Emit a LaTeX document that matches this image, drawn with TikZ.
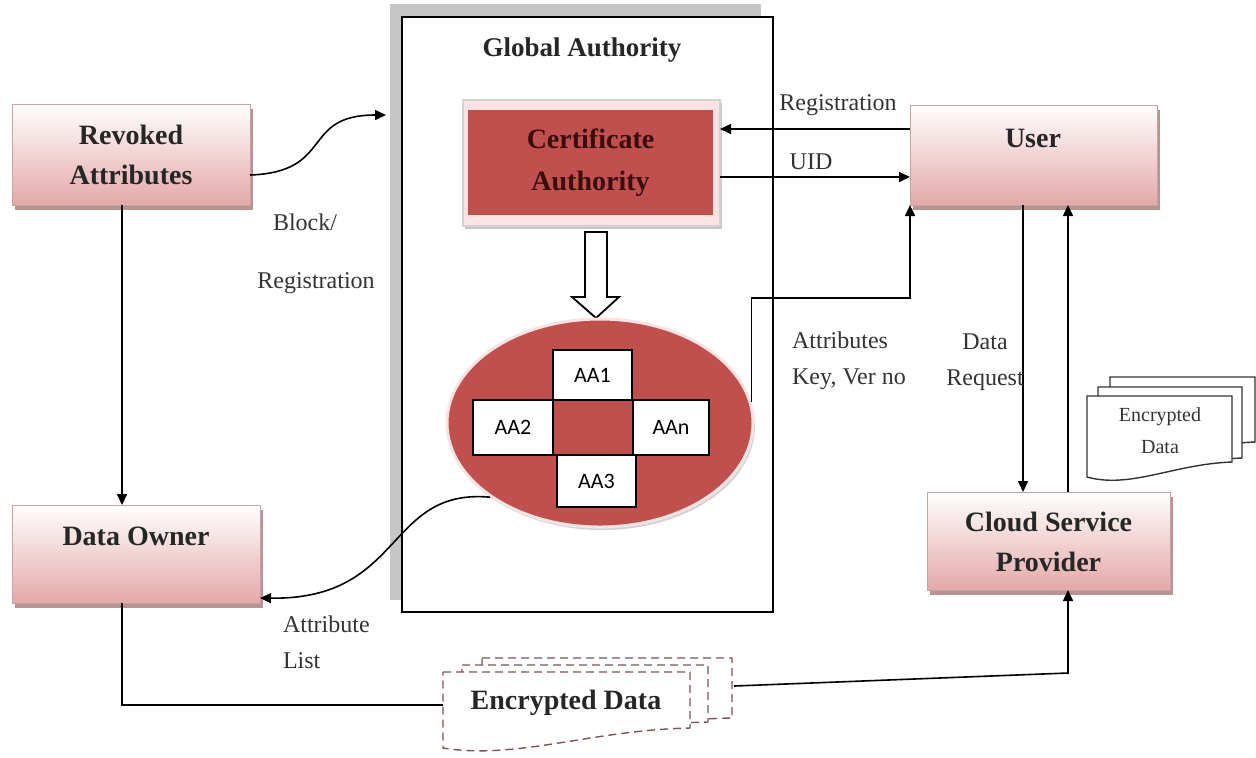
\documentclass[tikz,border=0pt]{standalone}
\usepackage{fontspec}
\setmainfont{Liberation Serif}
\newfontfamily\aafont{Carlito}
\usetikzlibrary{arrows.meta,shadows,shapes.geometric,calc}
\definecolor{boxpink}{HTML}{E4A8A8}
\definecolor{boxedge}{HTML}{C9A3A3}
\definecolor{shadowc}{HTML}{B99393}
\definecolor{cared}{HTML}{C0504D}
\definecolor{catext}{HTML}{3A0C0C}
\definecolor{capale}{HTML}{FBE3E3}
\definecolor{dashc}{HTML}{7A5555}
\tikzset{
 pinkbox/.style={draw=boxedge, line width=0.4pt, top color=white, bottom color=boxpink, inner sep=0pt, outer sep=0pt,
   drop shadow={shadow xshift=1.5pt, shadow yshift=-2.5pt, fill=shadowc, opacity=1}},
 bigtext/.style={font=\fontsize{14}{20}\selectfont\bfseries, text=black!85, align=center},
 lbl/.style={font=\fontsize{12}{18}\selectfont, text=black!80},
 conn/.style={line width=0.8pt},
 arr/.style={conn, -{Triangle[length=5.5pt,width=5pt]}},
 aabox/.style={draw=black, line width=0.8pt, fill=white, font=\aafont\fontsize{11}{13}\selectfont, inner sep=0pt, outer sep=0pt},
 docline/.style={draw=black!80, line width=0.7pt, fill=white},
 dashdoc/.style={draw=dashc, line width=0.7pt, fill=white, dash pattern=on 4pt off 2.5pt},
}
\newcommand{\docshp}[6]{\path[#6] (#1,#2) -- (#3,#2) -- (#3,#5) .. controls ({#1+0.6*(#3-#1)},{#5+2}) and ({#1+0.3*(#3-#1)},{#4+12}) .. (#1,#4) -- cycle;}
\begin{document}
\begin{tikzpicture}[x=0.5pt,y=-0.5pt]
\useasboundingbox (0,0) rectangle (1256,757);
% Global authority
\fill[gray!45] (390,4) rectangle (761,600);
\node[draw=black, line width=1pt, fill=white, minimum width=185.5pt, minimum height=297.5pt, inner sep=0pt, outer sep=0pt] (ga) at (587.5,314.5) {};
\node[font=\fontsize{13.5}{16}\selectfont\bfseries, text=black!85] (gat) at (582,50) {Global Authority};
% Certificate authority
\node[fill=capale, draw=gray!35, line width=0.6pt, minimum width=128.5pt, minimum height=63pt, inner sep=0pt, outer sep=0pt,
  drop shadow={shadow xshift=1pt, shadow yshift=-1.5pt, fill=gray!45, opacity=1}] (caout) at (591.5,163) {};
\node[fill=cared, minimum width=122.5pt, minimum height=52.5pt, inner sep=0pt, font=\fontsize{14}{21}\selectfont\bfseries, text=catext, align=center] (ca) at (590.5,162.5) {Certificate\\Authority};
% hollow arrow
\draw[line width=0.9pt, fill=white] (585,232) -- (607,232) -- (607,297) -- (619,297) -- (596,318) -- (572,297) -- (585,297) -- cycle;
% ellipse with authorities
\node[ellipse, fill=cared, draw=capale, line width=1.5pt, minimum width=153pt, minimum height=104pt, inner sep=0pt,
  drop shadow={shadow xshift=1pt, shadow yshift=-1.5pt, fill=gray!35, opacity=1}] (aa) at (600,423) {};
\node[aabox, fill=cared, minimum width=40pt, minimum height=27.5pt] (aac) at (593,427.5) {};
\node[aabox, minimum width=39.5pt, minimum height=25pt] (aa1) at (592.5,375) {AA1};
\node[aabox, minimum width=40pt, minimum height=27.5pt] (aa2) at (513,427.5) {AA2};
\node[aabox, minimum width=38pt, minimum height=27.5pt] (aan) at (671,427.5) {AAn};
\node[aabox, minimum width=39.5pt, minimum height=26pt] (aa3) at (596.5,481) {AA3};
% pink boxes
\node[pinkbox, minimum width=119pt, minimum height=50.5pt] (rev) at (131,154.5) {};
\node[bigtext] (revt) at (131,155) {Revoked\\Attributes};
\node[pinkbox, minimum width=123.5pt, minimum height=50pt] (user) at (1033.5,155) {};
\node[bigtext] (usert) at (1033,138) {User};
\node[pinkbox, minimum width=124pt, minimum height=49pt] (do) at (136,554) {};
\node[bigtext] (dot) at (136,536) {Data Owner};
\node[pinkbox, minimum width=121.5pt, minimum height=49pt] (csp) at (1048.5,541) {};
\node[bigtext] (cspt) at (1048.5,542) {Cloud Service\\Provider};
% encrypted data stack (top right)
\docshp{1110}{377}{1255}{455}{442}{docline}
\docshp{1098}{387}{1242}{470}{458}{docline}
\docshp{1087}{396}{1232}{477}{462}{docline}
\node[font=\fontsize{10}{16}\selectfont, text=black!80, align=center] (edt) at (1160,431) {Encrypted\\Data};
% encrypted data (bottom, dashed)
\docshp{482}{658}{732}{730}{718}{dashdoc}
\docshp{462}{665}{708}{738}{722}{dashdoc}
\docshp{443}{672}{690}{748}{728}{dashdoc}
\node[font=\fontsize{14}{17}\selectfont\bfseries, text=black!85] (enc) at (566,703) {Encrypted Data};
\coordinate (encw) at (443,705);
\coordinate (ence) at (734,686);
\coordinate (cspbend) at (1068,673);
\coordinate (gaentry) at (386,115);
\coordinate (attc) at (910,298);
% connectors
\draw[arr] (rev.east |- 0,175) .. controls (335,172) and (300,115) .. (gaentry);
\draw[arr] (rev.south -| 122,0) -- (do.north -| 122,0);
\draw[arr] (user.west |- 0,129) -- (caout.east |- 0,129);
\draw[arr] (caout.east |- 0,177) -- (user.west |- 0,177);
\draw[arr] (aa.8) |- (attc) -- (user.south west);
\draw[arr] (user.south -| 1023,0) -- (csp.north -| 1023,0);
\draw[arr] (csp.north -| 1068,0) -- (user.south -| 1068,0);
\draw[arr] (aa.214) .. controls (385,488) and (405,600) .. (do.east |- 0,598);
\draw[conn] (do.south -| 122,0) |- (encw);
\draw[arr] (ence) -- (cspbend) -- (csp.south -| 1068,0);
% labels
\node[lbl] (lreg) at (838,105) {Registration};
\node[lbl] (luid) at (811,162) {UID};
\node[lbl] (lblock) at (305,222) {Block/};
\node[lbl] (lreg2) at (316,283) {Registration};
\node[lbl, align=left, anchor=west] (latt) at (785,361) {Attributes\\Key, Ver no};
\node[lbl, align=center] (ldr) at (985,362) {Data\\Request};
\node[lbl, align=left, anchor=west] (lal) at (276,642) {Attribute\\List};
\end{tikzpicture}
\end{document}
